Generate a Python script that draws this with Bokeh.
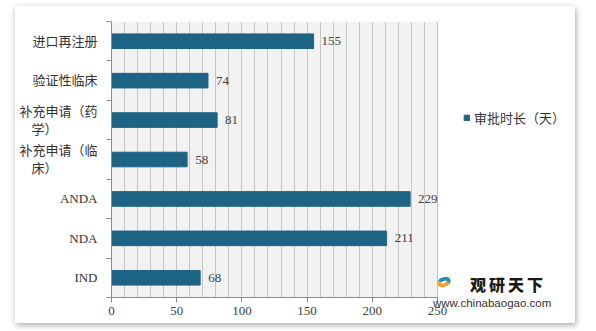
from bokeh.plotting import figure
from bokeh.models import (ColumnDataSource, FixedTicker, SingleIntervalTicker, Legend,
                          LegendItem, Range1d, BoxAnnotation)
from bokeh.models.dom import Div as DomDiv
from bokeh.core.properties import value
from bokeh.embed import file_html
from bokeh.resources import INLINE

# data (bottom to top)
categories = ["IND", "NDA", "ANDA", "补充申请（临床）", "补充申请（药学）", "验证性临床", "进口再注册"]
PAD = "\u2800" * 4
tick_labels = ["IND", "NDA", "ANDA", "补充申请（临\n床）" + PAD, "补充申请（药\n学）" + PAD,
               "验证性临床", "进口再注册"]
durations = [68, 211, 229, 58, 81, 74, 155]
series_name = "审批时长（天）"
x_ticks = [0, 50, 100, 150, 200, 250]
x_max = 250
brand = "观研天下"
site = "www.chinabaogao.com"

BAR = "#1d6384"
SERIF = "'Liberation Serif', 'Noto Sans CJK SC', serif"
CJK = "'Liberation Serif', 'Noto Sans CJK SC', sans-serif"

ys = [i + 0.5 for i in range(len(categories))]
src = ColumnDataSource(dict(y=ys, v=durations, t=[str(d) for d in durations]))

W, H = 560, 317
left, top, bottom = 96, 15, 26
axis_px = 326                      # pixel length of 0..250
frame_w = W - left - 4
x_end = x_max * frame_w / axis_px

p = figure(width=W, height=H, output_backend="svg", toolbar_location=None,
           x_range=Range1d(0, x_end), y_range=Range1d(0, len(categories)),
           min_border_left=left, min_border_right=W - left - frame_w,
           min_border_top=top, min_border_bottom=bottom)
p.margin = (6, 21, 8, 15)
p.styles = {"box-shadow": "1px 2px 6px rgba(0,0,0,0.35)"}
p.background_fill_color = "white"
p.border_fill_color = "white"
p.outline_line_color = None

p.add_layout(BoxAnnotation(left=0, right=x_max, fill_color="#f2f2f2", fill_alpha=1,
                           line_color=None, level="image"))

r = p.hbar(y="y", right="v", left=0, height=0.37, source=src, fill_color=BAR,
           line_color=BAR)
p.text(x="v", y="y", text="t", source=src, x_offset=8, text_baseline="middle",
       text_font=value(SERIF), text_font_size="13px", text_color="#404040")

# grid
p.xgrid.ticker = SingleIntervalTicker(interval=10)
p.xgrid.bounds = (0, x_max)
p.xgrid.grid_line_color = "#c4c4c4"
p.xgrid.grid_line_width = 1
p.ygrid.grid_line_color = None

# x axis
xa = p.xaxis[0]
xa.ticker = FixedTicker(ticks=x_ticks, minor_ticks=[])
xa.bounds = (0, x_max)
xa.axis_line_color = "#8c8c8c"
xa.major_tick_line_color = "#8c8c8c"
xa.major_tick_out = 5
xa.major_tick_in = 0
xa.minor_tick_line_color = None
xa.major_label_text_font = SERIF
xa.major_label_text_font_size = "13px"
xa.major_label_text_color = "#404040"
xa.major_label_standoff = 4

# y axis: labels at centers, ticks at boundaries
ya = p.yaxis[0]
ya.ticker = FixedTicker(ticks=ys, minor_ticks=list(range(len(categories) + 1)))
ya.major_label_overrides = {y: lab for y, lab in zip(ys, tick_labels)}
ya.axis_line_color = "#8c8c8c"
ya.major_tick_line_color = None
ya.minor_tick_line_color = "#8c8c8c"
ya.minor_tick_out = 5
ya.minor_tick_in = 0
ya.major_label_text_font = CJK
ya.major_label_text_font_size = "13px"
ya.major_label_text_color = "#333333"
ya.major_label_standoff = 8

legend = Legend(items=[LegendItem(label=series_name, renderers=[r])],
                location=(352, 170), label_text_font=CJK, label_text_font_size="13px",
                label_text_color="#333333", glyph_width=7, glyph_height=7,
                background_fill_alpha=0, border_line_color=None, padding=0, spacing=0,
                label_standoff=4, margin=0)
p.add_layout(legend, "center")

# watermark (HTML overlay)
logo = DomDiv(style={"position": "absolute", "left": "422px", "top": "271px",
                     "width": "14px", "height": "10px", "border-radius": "50%",
                     "border-style": "solid", "border-width": "4px",
                     "border-color": "#2b8db3 #2b8db3 #f2a236 #f2a236",
                     "transform": "rotate(-20deg)", "pointer-events": "none"})
name = DomDiv(style={"position": "absolute", "left": "455px", "top": "270px",
                     "font-family": "'Noto Sans CJK SC', sans-serif", "font-weight": "900",
                     "font-size": "16px", "line-height": "1", "letter-spacing": "3px",
                     "color": "#1a1a1a", "pointer-events": "none"},
              children=[brand])
url = DomDiv(style={"position": "absolute", "left": "418px", "top": "292px",
                    "font-family": "Arial, 'Liberation Sans', sans-serif",
                    "font-size": "11.5px", "line-height": "1", "color": "#333333",
                    "pointer-events": "none"},
             children=[site])
p.elements = [logo, name, url]

open("out.html", "w").write(file_html(p, INLINE))
